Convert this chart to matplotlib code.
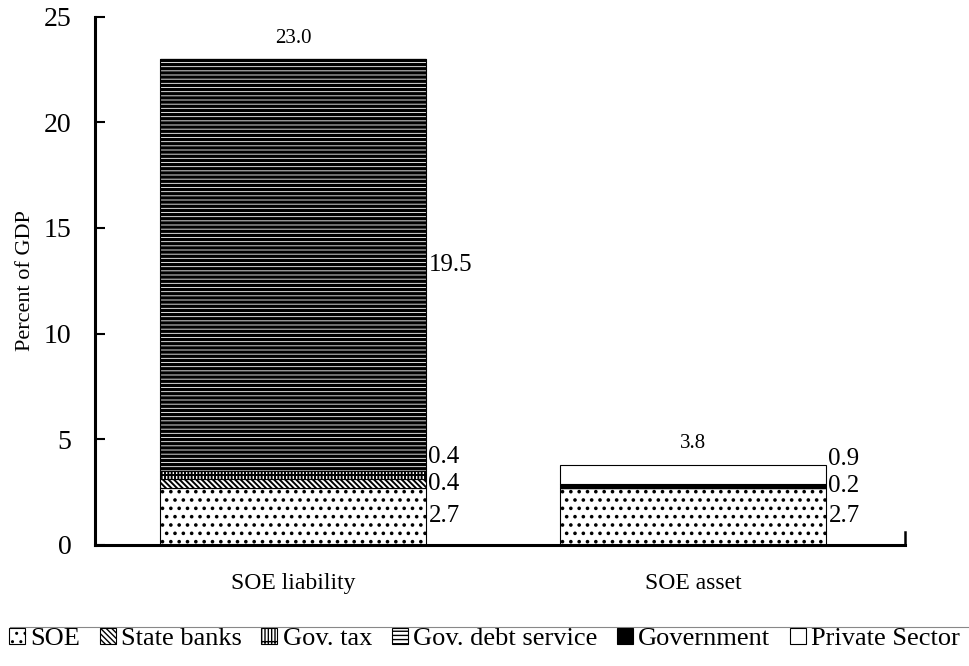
import matplotlib.pyplot as plt
import matplotlib.lines as mlines
import numpy as np

plt.rcParams['font.family'] = ['Liberation Serif', 'DejaVu Serif']

# data
categories = ['SOE liability', 'SOE asset']
series = ['SOE', 'State banks', 'Gov. tax', 'Gov. debt service', 'Government', 'Private Sector']
values = {
    'SOE': [2.7, 2.7],
    'State banks': [0.4, 0.0],
    'Gov. tax': [0.4, 0.0],
    'Gov. debt service': [19.5, 0.0],
    'Government': [0.0, 0.2],
    'Private Sector': [0.0, 0.9],
}
totals = [23.0, 3.8]
yticks = [0, 5, 10, 15, 20, 25]

styles = {
    'SOE': dict(color='white', hatch='..', hlw=1.4),
    'State banks': dict(color='white', hatch='\\\\\\\\\\\\', hlw=1.4),
    'Gov. tax': dict(color='white', hatch='||||+', hlw=1.4),
    'Gov. debt service': dict(color='white', hatch='----', hlw=2.4),
    'Government': dict(color='black', hatch=None, hlw=1.0),
    'Private Sector': dict(color='white', hatch=None, hlw=1.0),
}

fig = plt.figure(figsize=(9.69, 6.66), dpi=100)
ax = fig.add_axes([0.098, 0.182, 0.836, 0.793])

x = np.arange(len(categories))
width = 0.667
bottom = np.zeros(len(categories))
for s in series:
    v = np.array(values[s])
    with plt.rc_context({'hatch.linewidth': styles[s]['hlw']}):
        ax.bar(x, v, width, bottom=bottom, label=s, facecolor=styles[s]['color'],
               hatch=styles[s]['hatch'], edgecolor='black', linewidth=0.8)
    bottom += v

# segment labels to the right of each bar, spread so they don't overlap
gap = 1.25
for i in range(len(categories)):
    cum = 0
    last = -10
    for s in series:
        v = values[s][i]
        if v == 0:
            continue
        mid = cum + v / 2
        ypos = max(mid, last + gap)
        last = ypos
        ax.text(x[i] + width / 2 + 0.005, ypos, f'{v:.1f}', ha='left', va='center', fontsize=18)
        cum += v
    ax.annotate(f'{totals[i]:.1f}', (x[i], totals[i]), xytext=(0, 8), textcoords='offset points',
                ha='center', va='bottom', fontsize=15)

ax.set_xlim(-0.495, 1.53)
ax.set_ylim(0, 25)
ax.set_yticks(yticks)
ax.set_xticks(x)
ax.set_xticklabels(categories, fontsize=17)
ax.tick_params(axis='y', direction='in', length=7, width=1.5, labelsize=20, pad=17)
ax.tick_params(axis='x', length=0, pad=20)
ax.set_ylabel('Percent of GDP', fontsize=16, labelpad=6)
ax.spines['top'].set_visible(False)
ax.spines['right'].set_visible(False)
ax.spines['left'].set_linewidth(2.2)
ax.spines['bottom'].set_linewidth(2.2)
# small tick at right end of x axis
ax.plot([1.53, 1.53], [0, 0.6], color='black', lw=1.8, clip_on=False)

fig.add_artist(mlines.Line2D([0.01, 1.0], [0.058, 0.058], transform=fig.transFigure,
                             color='#888888', lw=0.8))
fig.legend(loc='lower center', bbox_to_anchor=(0.5, -0.012), ncol=6, frameon=False, fontsize=19,
           handlelength=0.6, handleheight=0.6, handletextpad=0.2, columnspacing=0.75)

fig.savefig('out.png', dpi=100)
